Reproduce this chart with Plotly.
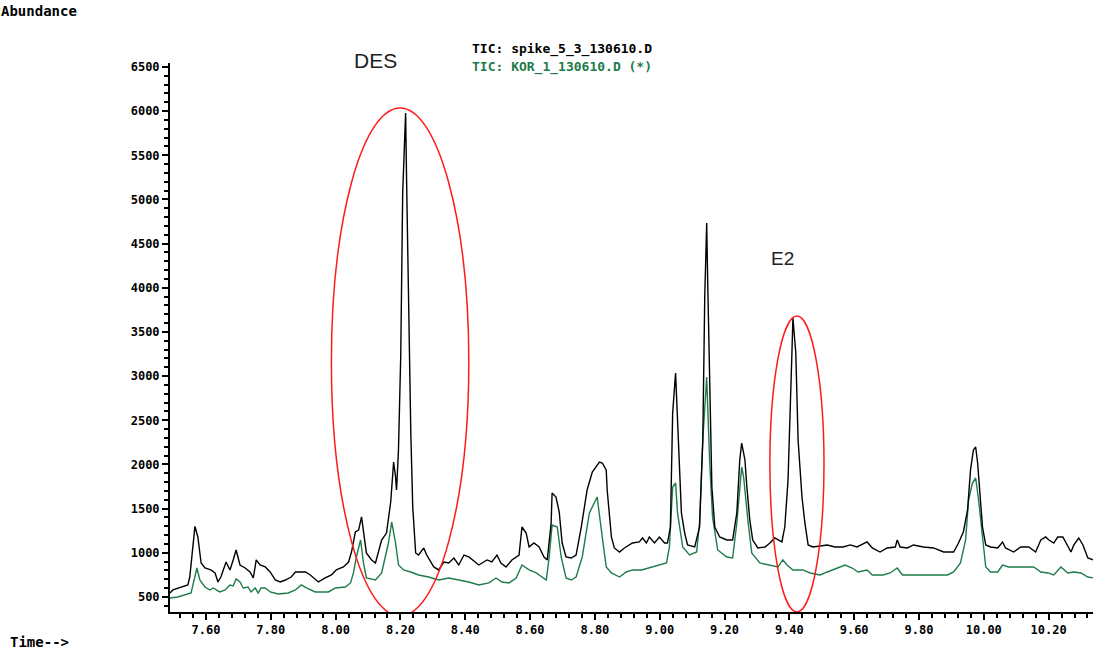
import plotly.graph_objects as go

# ---------------- data ----------------
time_spike = [7.489,7.498,7.544,7.550,7.566,7.575,7.585,7.597,7.615,7.628,7.637,7.646,7.662,7.674,7.684,7.693,7.705,7.721,7.736,7.746,
              7.755,7.767,7.783,7.798,7.814,7.829,7.845,7.863,7.876,7.907,7.922,7.947,7.968,7.987,8.002,8.024,8.040,8.049,8.061,8.071,
              8.080,8.086,8.095,8.111,8.123,8.142,8.157,8.170,8.179,8.185,8.188,8.194,8.201,8.207,8.216,8.219,8.225,8.232,8.238,8.247,
              8.256,8.272,8.281,8.303,8.318,8.334,8.349,8.365,8.380,8.396,8.411,8.442,8.467,8.482,8.498,8.510,8.526,8.544,8.566,8.575,
              8.588,8.597,8.612,8.628,8.643,8.653,8.665,8.668,8.680,8.690,8.699,8.711,8.727,8.742,8.758,8.776,8.792,8.814,8.823,8.835,
              8.838,8.851,8.860,8.876,8.891,8.916,8.937,8.947,8.959,8.968,8.984,8.999,9.015,9.024,9.033,9.040,9.049,9.052,9.058,9.067,
              9.077,9.086,9.108,9.123,9.133,9.139,9.145,9.148,9.154,9.161,9.170,9.185,9.207,9.225,9.238,9.247,9.253,9.263,9.269,9.278,
              9.287,9.303,9.325,9.340,9.355,9.377,9.386,9.396,9.408,9.411,9.420,9.427,9.439,9.448,9.458,9.473,9.517,9.541,9.566,9.588,
              9.609,9.640,9.656,9.680,9.702,9.727,9.733,9.742,9.764,9.783,9.814,9.845,9.876,9.907,9.922,9.937,9.950,9.959,9.968,9.975,
              9.981,9.990,9.996,10.006,10.021,10.043,10.058,10.067,10.092,10.114,10.139,10.160,10.176,10.191,10.201,10.216,10.228,10.244,10.259,10.269,
              10.278,10.293,10.306,10.321,10.340]
abund_spike = [545,580,636,726,1300,1179,885,828,806,772,670,726,896,806,919,1032,862,828,783,715,
               919,862,840,783,692,670,692,726,783,783,749,670,715,749,806,840,896,1009,1236,1258,
               1406,1224,998,919,885,1145,1224,1575,2028,1858,1711,2164,3239,5073,5979,5220,3783,2356,1519,998,
               975,1055,975,840,806,896,885,941,862,975,953,862,919,896,975,885,840,919,975,1292,
               1224,1066,1111,1066,953,919,1338,1677,1632,1462,1111,953,941,975,1292,1711,1915,2028,2017,1938,
               1711,1179,1055,1009,1055,1111,1123,1168,1111,1179,1111,1179,1111,1111,1292,2583,3036,2730,2243,1451,
               1224,1089,1066,1292,2277,3896,4734,4088,2809,1745,1292,1179,1145,1145,1451,2051,2243,2051,1745,1372,
               1145,1055,1066,1111,1168,1123,1292,1824,3262,3658,3262,2277,1632,1338,1089,1066,1089,1066,1066,1089,
               1066,1123,1055,1009,1055,1066,1145,1066,1055,1089,1066,1055,1009,1009,1111,1236,1485,1938,2164,2198,
               2017,1564,1292,1089,1066,1055,1123,1055,1009,1066,1066,1009,1145,1179,1145,1111,1179,1179,1066,1009,
               1089,1168,1089,941,919]

time_kor = [7.489,7.513,7.554,7.566,7.572,7.581,7.597,7.612,7.622,7.643,7.659,7.674,7.684,7.693,7.705,7.715,7.730,7.739,7.752,7.761,
            7.770,7.783,7.798,7.823,7.854,7.876,7.894,7.910,7.937,7.978,7.999,8.030,8.046,8.055,8.064,8.077,8.086,8.095,8.123,8.142,
            8.163,8.173,8.185,8.194,8.210,8.232,8.256,8.287,8.318,8.349,8.380,8.411,8.442,8.473,8.495,8.513,8.535,8.557,8.575,8.597,
            8.619,8.650,8.659,8.668,8.684,8.696,8.711,8.727,8.742,8.761,8.783,8.798,8.807,8.820,8.835,8.851,8.876,8.897,8.916,8.944,
            8.968,8.999,9.021,9.030,9.040,9.049,9.055,9.071,9.092,9.114,9.123,9.133,9.145,9.154,9.163,9.179,9.207,9.225,9.238,9.253,
            9.259,9.272,9.284,9.309,9.340,9.365,9.380,9.393,9.411,9.442,9.464,9.495,9.517,9.548,9.572,9.594,9.612,9.640,9.656,9.690,
            9.711,9.733,9.749,9.783,9.888,9.907,9.928,9.944,9.953,9.965,9.975,9.984,9.996,10.006,10.021,10.043,10.058,10.077,10.114,10.154,
            10.176,10.198,10.216,10.238,10.259,10.278,10.300,10.321,10.340]
abund_kor = [489,500,545,715,828,692,613,579,602,557,579,636,625,704,670,602,613,557,602,545,
             602,602,557,534,545,579,636,602,557,557,602,613,659,772,953,1145,885,715,692,772,
             1111,1349,1111,862,806,783,749,726,692,715,692,670,636,659,715,670,659,715,862,806,
             772,692,953,1315,1292,953,715,692,726,953,1451,1575,1632,1258,840,772,726,783,806,806,
             828,862,885,1066,1745,1790,1451,1066,975,1009,1338,2277,2990,2051,1406,1032,953,941,1338,1972,
             1858,1372,998,885,862,840,919,862,806,806,772,749,783,828,862,828,783,806,749,749,
             772,828,749,749,749,783,885,1145,1598,1790,1847,1598,1145,840,783,783,862,840,840,840,
             783,772,749,840,772,783,772,726,715]

assert len(time_spike) == len(abund_spike), (len(time_spike), len(abund_spike))
assert len(time_kor) == len(abund_kor), (len(time_kor), len(abund_kor))

x_tick_start, x_tick_step, x_minor_step = 7.6, 0.2, 0.04
y_tick_start, y_tick_step, y_minor_step = 500, 500, 100

spike_name = "TIC: spike_5_3_130610.D"
kor_name = "TIC: KOR_1_130610.D (*)"

# highlighted regions (time range, abundance range)
des_box = dict(t0=7.987, t1=8.411, a0=285, a1=6035)
e2_box = dict(t0=9.340, t1=9.507, a0=330, a1=3681)

GREEN = "#1e7b4a"
LABEL_FONT = dict(family="DejaVu Sans Mono", size=12, color="black", weight="bold")

fig = go.Figure()
fig.add_trace(go.Scatter(x=time_kor, y=abund_kor, mode="lines", name=kor_name,
                         line=dict(color=GREEN, width=1.4)))
fig.add_trace(go.Scatter(x=time_spike, y=abund_spike, mode="lines", name=spike_name,
                         line=dict(color="black", width=1.4)))

fig.update_xaxes(range=[7.489, 10.337], tickmode="linear", tick0=x_tick_start, dtick=x_tick_step,
                 tickformat=".2f", ticks="outside", ticklen=6, tickcolor="black", tickwidth=2,
                 showline=True, linecolor="black", linewidth=2, showgrid=False, zeroline=False,
                 tickfont=LABEL_FONT,
                 minor=dict(dtick=x_minor_step, ticks="outside", ticklen=4, tickcolor="black", tickwidth=1.5))
fig.update_yaxes(range=[330, 6545], tickmode="linear", tick0=y_tick_start, dtick=y_tick_step,
                 ticks="outside", ticklen=6, tickcolor="black", tickwidth=2,
                 showline=True, linecolor="black", linewidth=2, showgrid=False, zeroline=False,
                 tickfont=LABEL_FONT,
                 minor=dict(dtick=y_minor_step, ticks="outside", ticklen=4, tickcolor="black", tickwidth=1.5))

for box in (des_box, e2_box):
    fig.add_shape(type="circle", xref="x", yref="y",
                  x0=box["t0"], x1=box["t1"], y0=box["a0"], y1=box["a1"],
                  line=dict(color="#ff1a1a", width=1.5), layer="above")

fig.add_annotation(text="Abundance", xref="paper", yref="paper", x=-0.185, y=1.095,
                   xanchor="left", yanchor="middle", showarrow=False,
                   font=dict(family="DejaVu Sans Mono", size=14, color="black", weight="bold"))
fig.add_annotation(text="Time-->", xref="paper", yref="paper", x=-0.176, y=-0.055,
                   xanchor="left", yanchor="middle", showarrow=False,
                   font=dict(family="DejaVu Sans Mono", size=14, color="black", weight="bold"))
fig.add_annotation(text=spike_name, xref="x", yref="paper", x=8.415, y=1.025,
                   xanchor="left", yanchor="middle", showarrow=False,
                   font=dict(family="DejaVu Sans Mono", size=13, color="black", weight="bold"))
fig.add_annotation(text=kor_name, xref="x", yref="paper", x=8.415, y=0.993,
                   xanchor="left", yanchor="middle", showarrow=False,
                   font=dict(family="DejaVu Sans Mono", size=13, color=GREEN, weight="bold"))
fig.add_annotation(text="DES", x=8.123, y=1.005, xref="x", yref="paper", showarrow=False,
                   xanchor="center", yanchor="middle",
                   font=dict(family="Liberation Sans", size=21, color="#222222"))
fig.add_annotation(text="E2", x=9.380, y=4330, xref="x", yref="y", showarrow=False,
                   xanchor="center", yanchor="middle",
                   font=dict(family="Liberation Sans", size=19, color="#222222"))

fig.update_layout(width=1094, height=657, autosize=False,
                  margin=dict(l=170, r=1, t=63, b=45),
                  plot_bgcolor="white", paper_bgcolor="white",
                  showlegend=False)

fig.write_html("out.html")
